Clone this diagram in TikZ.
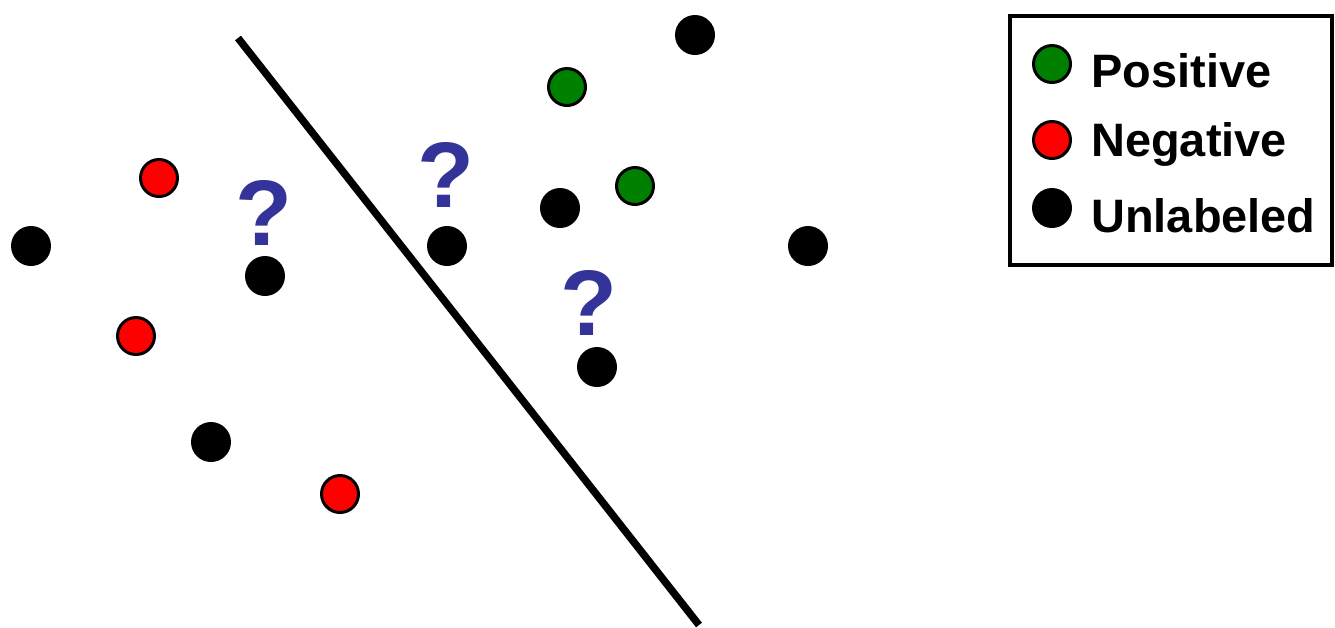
\documentclass[tikz,border=0pt]{standalone}
\usepackage{fontspec}
\setmainfont{Liberation Sans}
\usepackage{tikz}
\usetikzlibrary{positioning}
\definecolor{posgreen}{RGB}{0,128,0}
\definecolor{negred}{RGB}{255,0,0}
\definecolor{qblue}{RGB}{51,51,153}

\begin{document}
\begin{tikzpicture}[x=0.02cm,y=-0.02cm,
    dot/.style={circle,inner sep=0pt,minimum size=0.8cm},
    unl/.style={dot,fill=black},
    lab/.style={dot,draw=black,line width=1.7pt,minimum size=0.74cm},
    ask/.style={inner sep=0pt,text=qblue,font=\fontsize{53pt}{60pt}\selectfont\bfseries},
    legtxt/.style={anchor=base west,inner sep=0pt,font=\fontsize{26.7pt}{32pt}\selectfont\bfseries}]
    \useasboundingbox (0,0) rectangle (1335,627);
    % separating line
    \coordinate (sepTop) at (238,38);
    \coordinate (sepBot) at (699,625);
    \draw[line width=0.15cm] (sepTop) -- (sepBot);
    % unlabeled points
    \foreach \n/\x/\y in {u1/695/35, u2/560/208, u3/808/246, u4/447/246,
                          u5/31/246, u6/265/276, u7/597/367, u8/211/442} {
      \node[unl] (\n) at (\x,\y) {};
    }
    % labeled points
    \foreach \n/\x/\y in {p1/567/87, p2/635/186} {
      \node[lab,fill=posgreen] (\n) at (\x,\y) {};
    }
    \foreach \n/\x/\y in {n1/159/178, n2/136/336, n3/340/494} {
      \node[lab,fill=negred] (\n) at (\x,\y) {};
    }
    % question marks
    \node[ask] (q1) at (264,213) {?};
    \node[ask] (q2) at (446,175) {?};
    \node[ask] (q3) at (589,303) {?};
    % legend
    \draw[line width=0.08cm] (1009.5,16) rectangle (1332,264.5);
    \node[lab,fill=posgreen] (lgPos) at (1052,64) {};
    \node[lab,fill=negred] (lgNeg) at (1052,140) {};
    \node[unl] (lgUnl) at (1052,208) {};
    \node[legtxt] (tPos) at (1091,87) {Positive};
    \node[legtxt] (tNeg) at (1091,156) {Negative};
    \node[legtxt] (tUnl) at (1091,232) {Unlabeled};
\end{tikzpicture}
\end{document}
